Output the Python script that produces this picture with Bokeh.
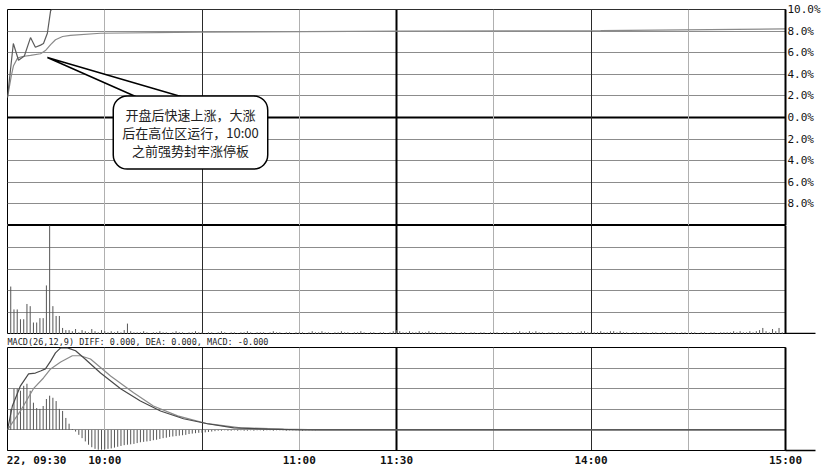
from bokeh.plotting import figure
from bokeh.layouts import column
from bokeh.models import (Range1d, FixedTicker, Grid, LinearAxis, Label,
                          PolyAnnotation)
from bokeh.embed import file_html
from bokeh.resources import INLINE

# ---------------- data (minutes after 09:30, trading time) ----------------
price_t = [0, 1.8, 3.4, 5.2, 7.1, 8.6, 10.2, 11.1, 12.3, 13.3, 13.6, 240]
price_pct = [1.85, 6.85, 5.3, 5.7, 7.4, 6.5, 6.7, 6.85, 7.8, 9.9, 10.0, 10.0]

avg_t = [0, 1.2, 1.85, 3.1, 4.6, 7.1, 10.2, 11.7, 13.3, 14.8, 17, 19.4,
         28.7, 59.6, 121, 183, 240]
avg_pct = [1.85, 3.9, 4.8, 5.5, 5.65, 5.75, 5.9, 6.2, 6.75, 7.2, 7.5, 7.6,
           7.8, 7.9, 8.0, 8.05, 8.2]

# volume per minute, minutes 0..240 (panel top = 100)
volume = [0,
          44, 23, 23, 14, 14, 28, 26, 11, 11, 15, 15, 45, 120, 26, 17, 17, 6,
          4, 4, 3, 5, 2, 4, 3, 2, 5, 3, 2, 4, 3,
          2, 3, 2, 3, 2, 4, 10, 3, 2, 2,
          2, 3, 2, 1, 2, 2, 3, 2, 2, 1, 2, 3, 2, 2, 1, 2, 2, 3, 2, 2,
          1, 2, 2, 1, 2, 3, 2, 1, 2, 2, 1, 2, 2, 3, 2, 1, 2, 2, 2, 1, 2, 3, 2, 2, 1, 2, 2, 1, 2, 2,
          2, 1, 2, 3, 2, 2, 3, 2, 2, 1, 2, 2, 3, 2, 2, 1, 2, 2, 3, 2, 1, 2, 2, 1, 2, 2, 1, 2, 3, 4,
          3, 2, 2, 3, 2, 2, 3, 2, 2, 3, 2, 2, 1, 2, 2, 1, 2, 2, 1, 2, 2, 1, 2, 2, 1, 2, 2, 1, 2, 2,
          2, 1, 2, 2, 1, 2, 2, 3, 2, 2, 3, 2, 3, 2, 2, 1, 2, 2, 1, 2, 2, 1, 2, 2, 1, 2, 3, 3, 2, 2,
          2, 2, 3, 2, 2, 3, 3, 2, 3, 2, 2, 1, 2, 2, 1, 2, 2, 1, 2, 2, 1, 2, 2, 1, 2, 2, 1, 2, 2, 1,
          2, 2, 1, 2, 2, 1, 2, 2, 1, 2, 2, 2, 2, 3, 2, 3, 2, 2, 3, 2, 3, 4, 6, 3, 2, 5, 3, 6, 2, 3]

diff_t = [0, 1.5, 4, 6.5, 8.6, 10.2, 11.7, 13.3, 14.8, 16.4, 18.5, 21, 23.5,
          28.7, 34.9, 41, 47.2, 54.3, 61.7, 69.8, 80.2, 90.4, 240]
diff_v = [0, 0.058, 0.107, 0.136, 0.138, 0.143, 0.148, 0.167, 0.187, 0.199,
          0.199, 0.192, 0.175, 0.138, 0.100, 0.070, 0.046, 0.027, 0.015,
          0.005, 0.002, 0.0, 0.0]

dea_t = [0, 4, 8, 11.1, 13.3, 16.4, 20, 22.5, 25.6, 31.8, 38.9, 45, 52.5,
         61.7, 71.9, 85.2, 96.6, 240]
dea_v = [0, 0.046, 0.100, 0.126, 0.148, 0.165, 0.180, 0.180, 0.172, 0.131,
         0.090, 0.058, 0.034, 0.015, 0.005, 0.002, 0.0, 0.0]

# MACD histogram per minute, minutes 0..95
macd_hist = [0,
             0.051, 0.100, 0.100, 0.095, 0.107, 0.112, 0.095, 0.066, 0.053, 0.051,
             0.058, 0.075, 0.083, 0.078, 0.070, 0.051, 0.046, 0.029, 0.015, 0.002,
             -0.004, -0.012, -0.020, -0.028, -0.036, -0.042, -0.046, -0.048, -0.048, -0.047,
             -0.046, -0.045, -0.043, -0.041, -0.039, -0.037, -0.036, -0.035, -0.034, -0.032,
             -0.030, -0.029, -0.028, -0.027, -0.025, -0.024, -0.022, -0.020, -0.019, -0.017,
             -0.016, -0.015, -0.014, -0.013, -0.012, -0.010, -0.009, -0.008, -0.007, -0.007,
             -0.006, -0.005, -0.004, -0.003, -0.002,
             -0.002, -0.001, -0.002, -0.002, -0.001, -0.002, -0.001, -0.002, -0.002, -0.001,
             -0.002, -0.001, -0.001, -0.002, -0.001, -0.001, -0.002, -0.001, -0.001, -0.001,
             -0.002, -0.001, -0.001, -0.001, -0.001, -0.002, -0.001, -0.001, -0.001, -0.001]

pct_ticks = [10, 8, 6, 4, 2, 0, -2, -4, -6, -8]
pct_labels = ["10.0%", "8.0%", "6.0%", "4.0%", "2.0%", "0.0%",
              "2.0%", "4.0%", "6.0%", "8.0%"]

time_ticks = [9, 30, 90, 120, 180, 240]
time_labels = ["22, 09:30", "10:00", "11:00", "11:30", "14:00", "15:00"]

callout_text = "开盘后快速上涨，大涨\n后在高位区运行，10:00\n之前强势封牢涨停板"
macd_title = "MACD(26,12,9) DIFF: 0.000, DEA: 0.000, MACD: -0.000"

# ---------------- figures ----------------
FW = 778
LB = 7
RB = 39
MONO = "DejaVu Sans Mono"
xr = Range1d(0, 240)


def make_fig(fh, yr, title=None, top=0):
    p = figure(frame_width=FW, frame_height=fh, x_range=xr, y_range=yr,
               output_backend="svg", toolbar_location=None, title=title,
               x_axis_location=None, y_axis_location=None,
               min_border_left=LB, min_border_right=RB,
               min_border_top=top, min_border_bottom=0,
               background_fill_color="white", border_fill_color="white",
               outline_line_color="black", outline_line_width=1)
    p.grid.visible = False
    return p


def add_grid(p, dim, ticks, color, width):
    p.add_layout(Grid(dimension=dim, ticker=FixedTicker(ticks=ticks),
                      grid_line_color=color, grid_line_width=width), "center")


def add_vgrids(p):
    add_grid(p, 0, [30, 90, 150, 210], "#b0b0b0", 1)
    add_grid(p, 0, [60, 180], "#2a2a2a", 1)
    add_grid(p, 0, [120], "black", 2)


def right_stub_axis(p, tick):
    # a single long outer tick continues the panel's bottom line to the right
    ax = LinearAxis(ticker=FixedTicker(ticks=[tick]),
                    major_label_overrides={tick: "."},
                    major_tick_out=30, major_tick_in=0, major_label_standoff=0,
                    major_tick_line_color="black", major_tick_line_width=1.5,
                    minor_tick_out=0, minor_tick_in=0,
                    axis_line_color="black", axis_line_width=2,
                    major_label_text_color="white",
                    major_label_text_font_size="7px")
    p.add_layout(ax, "right")


# price panel
pp = make_fig(216, Range1d(-10, 10), top=9)
add_grid(pp, 1, [-8, -6, -4, -2, 2, 4, 6, 8], "#8c8c8c", 1)
add_grid(pp, 1, [0], "black", 2)
add_vgrids(pp)
pp.line(avg_t, avg_pct, line_color="#8a8a8a", line_width=1.2)
pp.line(price_t, price_pct, line_color="#5c5c5c", line_width=1.2)
axp = LinearAxis(ticker=FixedTicker(ticks=pct_ticks),
                 major_label_overrides=dict(zip(pct_ticks, pct_labels)),
                 major_tick_out=0, major_tick_in=0, major_label_standoff=2,
                 axis_line_color="black", axis_line_width=2,
                 major_label_text_font=MONO, major_label_text_font_size="11px",
                 major_label_text_color="#111111")
pp.add_layout(axp, "right")

pp.add_layout(PolyAnnotation(xs=[12.3, 42.3, 57.7], ys=[5.56, 1.57, 1.57],
                             fill_color="white", fill_alpha=1.0,
                             line_color="black", line_alpha=1.0, line_width=1.5))
pp.add_layout(Label(x=56.45, y=-1.39, text=callout_text,
                    text_align="center", text_baseline="middle",
                    text_font="Noto Sans CJK SC", text_font_size="13px",
                    text_line_height=0.95, text_color="#222222",
                    background_fill_color="white", background_fill_alpha=1.0,
                    border_line_color="black", border_line_width=1.5,
                    border_radius=14, padding=9))

# volume panel
pv = make_fig(109, Range1d(0, 100))
add_grid(pv, 1, [20, 40, 60, 80], "#8c8c8c", 1)
add_vgrids(pv)
minutes_v = list(range(len(volume)))
pv.segment(x0=minutes_v, y0=[0] * len(volume), x1=minutes_v, y1=volume,
           line_color="#555555", line_width=1)
right_stub_axis(pv, 1)

# MACD panel
pm = make_fig(103, Range1d(-0.05, 0.2), title=macd_title)
pm.title.text_font = MONO
pm.title.text_font_size = "8.5px"
pm.title.text_font_style = "normal"
pm.title.text_color = "#222222"
pm.title.standoff = 1
pm.title.offset = 0
pm.title.align = "left"
add_grid(pm, 1, [0, 0.05, 0.1, 0.15], "#8c8c8c", 1)
add_vgrids(pm)
minutes_h = list(range(len(macd_hist)))
pm.segment(x0=minutes_h, y0=[0] * len(macd_hist), x1=minutes_h, y1=macd_hist,
           line_color="#555555", line_width=1)
pm.line(dea_t, dea_v, line_color="#8a8a8a", line_width=1.2)
pm.line(diff_t, diff_v, line_color="#4a4a4a", line_width=1.2)
right_stub_axis(pm, -0.049)
axb = LinearAxis(ticker=FixedTicker(ticks=time_ticks),
                 major_label_overrides=dict(zip(time_ticks, time_labels)),
                 major_tick_out=0, major_tick_in=0, major_label_standoff=3,
                 axis_line_color="black", axis_line_width=1,
                 major_label_text_font=MONO, major_label_text_font_size="11px",
                 major_label_text_font_style="bold",
                 major_label_text_color="#111111")
pm.add_layout(axb, "below")

layout = column(pp, pv, pm, spacing=0)
open("out.html", "w").write(file_html(layout, INLINE))
